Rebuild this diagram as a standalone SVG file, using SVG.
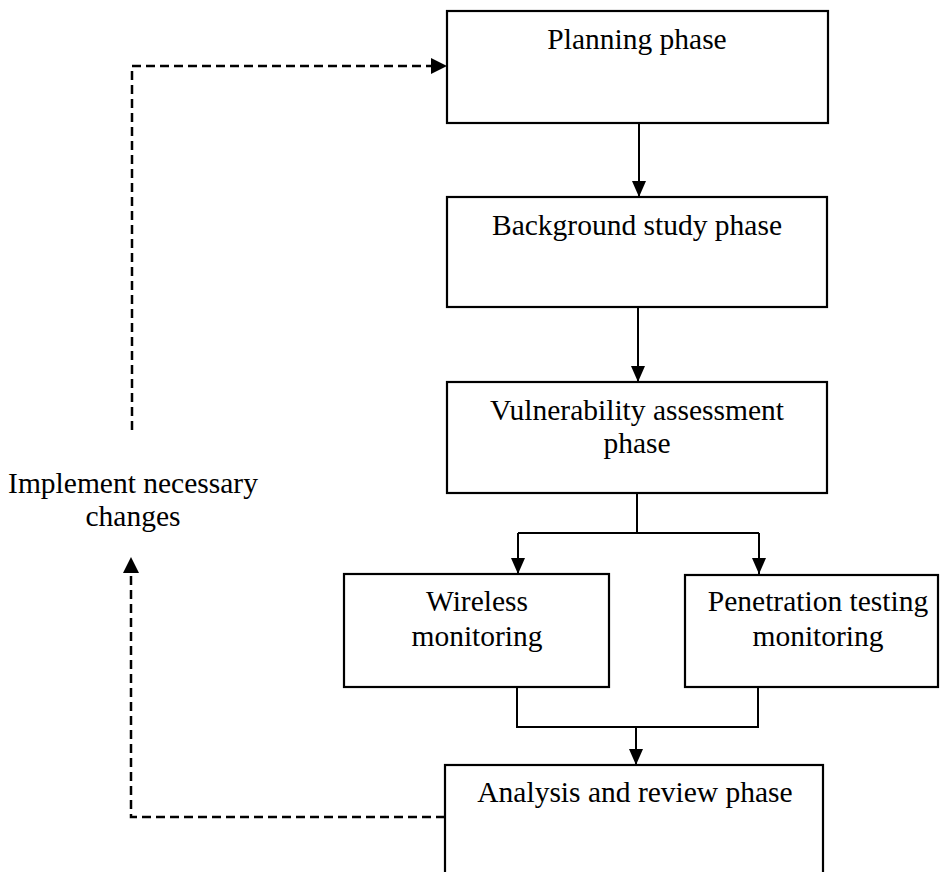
<svg xmlns="http://www.w3.org/2000/svg" width="940" height="872" viewBox="0 0 940 872">
<style>
.box{fill:#fff;stroke:#000;stroke-width:2.2}
.t{font-family:"Liberation Serif","Times New Roman",serif;font-size:29.5px;fill:#000;text-anchor:middle}
.c{fill:none;stroke:#000;stroke-width:2}
.d{fill:none;stroke:#000;stroke-width:2.5;stroke-dasharray:9 5}
</style>
<defs>
<marker id="ah" viewBox="0 0 16 14" refX="16" refY="7" markerWidth="16" markerHeight="14" orient="auto" markerUnits="userSpaceOnUse">
<path d="M0,0 L16,7 L0,14 z" fill="#000"/>
</marker>
</defs>
<rect width="940" height="872" fill="#fff"/>
<g id="connectors">
<path class="c" d="M639,123 V197" marker-end="url(#ah)"/>
<path class="c" d="M638,307 V382" marker-end="url(#ah)"/>
<path class="c" d="M637,493 V533 M518,533 H759"/>
<path class="c" d="M518,533 V574" marker-end="url(#ah)"/>
<path class="c" d="M759,533 V574" marker-end="url(#ah)"/>
<path class="c" d="M517,687 V727 H758 V687"/>
<path class="c" d="M636,727 V765" marker-end="url(#ah)"/>
<path class="d" d="M445,817 H131 V560"/>
<path d="M131,557 L139,573 L123,573 z" fill="#000"/>
<path class="d" d="M132,430 V66 H433"/>
<path d="M447,66 L431,58 L431,74 z" fill="#000"/>
</g>
<g id="planning">
<rect class="box" x="447" y="11" width="381" height="112"/>
<text class="t" x="637" y="49">Planning phase</text>
</g>
<g id="background">
<rect class="box" x="447" y="197" width="380" height="110"/>
<text class="t" x="637" y="235">Background study phase</text>
</g>
<g id="vulnerability">
<rect class="box" x="447" y="382" width="380" height="111"/>
<text class="t" x="637" y="420">Vulnerability assessment</text>
<text class="t" x="637" y="453">phase</text>
</g>
<g id="wireless">
<rect class="box" x="344" y="574" width="265" height="113"/>
<text class="t" x="477" y="611">Wireless</text>
<text class="t" x="477" y="646">monitoring</text>
</g>
<g id="penetration">
<rect class="box" x="685" y="575" width="253" height="112"/>
<text class="t" x="818" y="611">Penetration testing</text>
<text class="t" x="818" y="646">monitoring</text>
</g>
<g id="analysis">
<rect class="box" x="445" y="765" width="378" height="120"/>
<text class="t" x="635" y="802">Analysis and review phase</text>
</g>
<g id="label">
<text class="t" x="133" y="493">Implement necessary</text>
<text class="t" x="133" y="526">changes</text>
</g>
</svg>
